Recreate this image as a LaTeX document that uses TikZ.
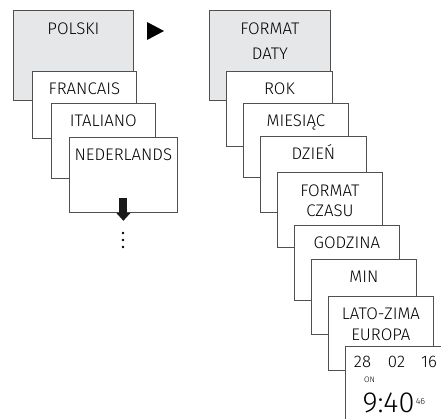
\documentclass[tikz,border=0pt]{standalone}
\usepackage{fontspec}
\setmainfont{Fira Sans Light}
\usepackage{tikz}
\usetikzlibrary{arrows.meta,positioning}
\definecolor{framegray}{HTML}{505050}
\definecolor{headgray}{HTML}{E6E7E9}
\tikzset{
  menu/.style={draw=framegray, line width=0.8pt, fill=white, anchor=north west,
    minimum width=105pt, minimum height=75pt, inner sep=0pt},
  head/.style={menu, fill=headgray, minimum width=120pt, minimum height=90pt},
  caption/.style={anchor=base, inner sep=0pt, font=\fontsize{16.8}{20}\selectfont},
  digits/.style={anchor=base, inner sep=0pt, font=\fontsize{16.8}{20}\selectfont},
  tiny/.style={anchor=base, inner sep=0pt, font=\fontsize{8}{9}\selectfont},
}

\begin{document}
\begin{tikzpicture}[x=1pt,y=-1pt]
      \useasboundingbox (0,0) rectangle (441,419);
      \clip (0,0) rectangle (441,419);

      % language menu
      \node[head] (polski) at (13,10) {};
      \node[caption] (polskit) at ([yshift=-25pt]polski.north) {POLSKI};
      \node[menu, minimum width=104pt, minimum height=67pt] (francais) at (32,71) {};
      \node[caption] (francaist) at ([yshift=-24pt]francais.north) {FRANCAIS};
      \node[menu, minimum width=104pt] (italiano) at (51,103) {};
      \node[caption] (italianot) at ([yshift=-24pt]italiano.north) {ITALIANO};
      \node[menu, minimum width=108pt] (nederlands) at (69,137) {};
      \node[caption] (nederlandst) at ([yshift=-24pt]nederlands.north) {NEDERLANDS};

      \draw[draw=black!90, line width=8pt, -{Triangle[width=14pt,length=8pt]}]
        ([yshift=15pt]nederlands.south) -- ([yshift=-8pt]nederlands.south);
      \fill (123,233) circle (1.4pt);
      \fill (123,240) circle (1.4pt);
      \fill (123,247) circle (1.4pt);

      \fill (147,22) -- (147,40) -- (164,31) -- cycle;

      % date / time menu
      \node[head, minimum width=121pt] (daty) at (209,10) {};
      \node[caption] (datyt) at ([yshift=-25pt]daty.north) {FORMAT};
      \node[caption] (datyt2) at ([yshift=-50pt]daty.north) {DATY};
      \node[menu, minimum width=106pt] (rok) at (226,71) {};
      \node[caption] (rokt) at ([yshift=-24pt]rok.north) {ROK};
      \node[menu, minimum height=74pt] (miesiac) at (243,103) {};
      \node[caption] (miesiact) at ([yshift=-24pt]miesiac.north) {MIESIĄC};
      \node[menu, minimum width=106pt, minimum height=76pt] (dzien) at (260,136) {};
      \node[caption] (dzient) at ([yshift=-24pt]dzien.north) {DZIEŃ};
      \node[menu] (czasu) at (277,172) {};
      \node[caption] (czasut) at ([yshift=-25pt]czasu.north) {FORMAT};
      \node[caption] (czasut2) at ([yshift=-45pt]czasu.north) {CZASU};
      \node[menu] (godzina) at (294,225) {};
      \node[caption] (godzinat) at ([yshift=-24pt]godzina.north) {GODZINA};
      \node[menu] (min) at (311,259) {};
      \node[caption] (mint) at ([yshift=-24pt]min.north) {MIN};
      \node[menu, minimum height=74pt] (latozima) at (328,296) {};
      \node[caption] (latozimat) at ([yshift=-23pt]latozima.north) {LATO-ZIMA};
      \node[caption] (latozimat2) at ([yshift=-44pt]latozima.north) {EUROPA};

      % display
      \node[menu] (clock) at (345,346) {};
      \node[digits] (day) at (362.5,367) {28};
      \node[digits] (month) at (396.5,367) {02};
      \node[digits] (year) at (429,367) {16};
      \node[tiny] (on) at (369.5,382) {ON};
      \node[anchor=base, inner sep=0pt, font=\fontsize{29}{30}\selectfont] (time) at (388.5,412) {9:40};
      \node[anchor=base west, inner sep=0pt, font=\fontsize{9}{10}\selectfont, xshift=1pt, yshift=8pt]
        (sec) at (time.base east) {46};
\end{tikzpicture}
\end{document}
